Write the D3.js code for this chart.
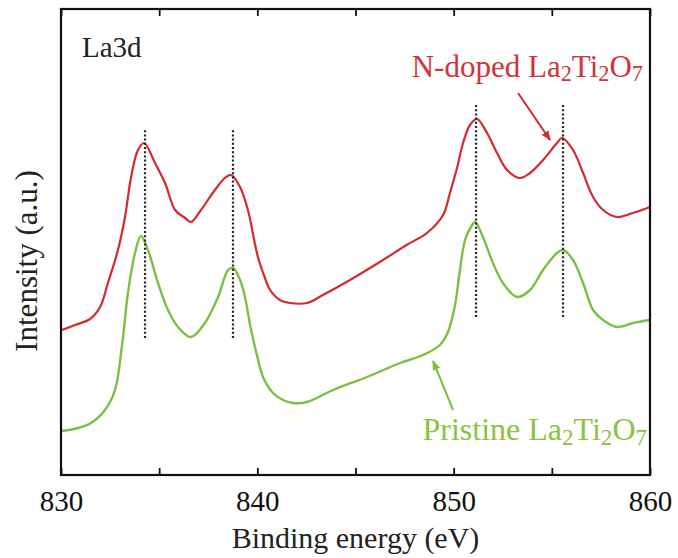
<!DOCTYPE html>
<html>
<head>
<meta charset="utf-8">
<script src="https://cdn.jsdelivr.net/npm/d3@7"></script>
<style>
  body { margin: 0; background: #fff; }
</style>
</head>
<body>
<div id="svg-chart"></div>
<script>
// binding energy (eV) and intensity (a.u.)
var energyRed = [830.05, 830.71, 831.48, 831.99, 832.39, 832.90, 833.26, 833.57, 833.92, 834.23,
  834.79, 835.30, 835.81, 836.32, 836.62, 837.13, 837.84, 838.35, 838.66, 839.12,
  839.52, 840.03, 840.39, 840.65, 841.15, 841.66, 842.53, 843.34, 844.72, 846.40,
  847.60, 848.64, 849.46, 849.81, 850.17, 850.48, 850.83, 851.19, 851.70, 852.21,
  852.72, 853.38, 853.89, 854.55, 855.26, 855.52, 856.08, 856.59, 857.10, 857.61,
  858.32, 859.13, 860.00];
var intensityRed = [145, 150, 156, 168, 192, 225, 258, 298, 325, 332,
  312, 292, 265, 257, 253, 265, 285, 297, 300, 288,
  265, 218, 197, 185, 175, 172, 172, 180, 195, 215,
  230, 242, 260, 282, 307, 332, 350, 356, 342, 322,
  305, 297, 302, 315, 332, 337, 325, 302, 278, 265,
  258, 262, 268];

var energyGreen = [830.05, 830.87, 831.53, 832.24, 832.75, 833.11, 833.41, 833.77, 834.07, 834.43,
  834.94, 835.45, 835.96, 836.62, 837.33, 838.00, 838.51, 838.76, 839.12, 839.37,
  839.68, 839.98, 840.29, 840.80, 841.31, 841.82, 842.53, 843.85, 845.59, 847.27,
  848.44, 849.30, 849.71, 850.07, 850.32, 850.58, 850.88, 851.09, 851.49, 852.00,
  852.51, 853.23, 853.89, 854.55, 855.26, 855.57, 856.08, 856.59, 857.10, 857.61,
  858.32, 859.13, 860.00];
var intensityGreen = [44, 47, 52, 65, 85, 130, 182, 222, 239, 225,
  192, 165, 148, 138, 152, 178, 205, 207, 195, 178,
  145, 120, 98, 82, 75, 72, 73, 85, 98, 112,
  120, 130, 143, 170, 205, 235, 248, 253, 238, 212,
  192, 178, 185, 205, 222, 225, 215, 192, 165, 155,
  148, 152, 155];

// dotted reference lines at the peak positions
var peakEnergy = [834.28, 838.76, 851.14, 855.57];
var peakFrom = [137, 137, 158, 158];
var peakTo = [347, 347, 370, 370];

var xTicks = [830, 840, 850, 860];
var xMinorTicks = [835, 845, 855];

var serif = "'Liberation Serif', 'Times New Roman', serif";

var svgWidth = 678, svgHeight = 558;
var chartMargin = { top: 9, right: 28, bottom: 83, left: 61 };
var chartWidth = svgWidth - chartMargin.left - chartMargin.right;
var chartHeight = svgHeight - chartMargin.top - chartMargin.bottom;

var svg = d3.select("#svg-chart")
  .append("svg")
  .attr("width", svgWidth)
  .attr("height", svgHeight);

var chartGroup = svg.append("g")
  .attr("transform", `translate(${chartMargin.left}, ${chartMargin.top})`);

var xScale = d3.scaleLinear().domain([830, 860]).range([0, chartWidth]);
var yScale = d3.scaleLinear().domain([0, 466]).range([chartHeight, 0]);

var red = "#d42a2f", green = "#7cc043";

// spectra
var line = d3.line()
  .x(d => xScale(d[0]))
  .y(d => yScale(d[1]))
  .curve(d3.curveCatmullRom.alpha(0.5));

chartGroup.append("path")
  .datum(d3.zip(energyRed, intensityRed))
  .attr("d", line)
  .attr("fill", "none")
  .attr("stroke", red)
  .attr("stroke-width", 2.2)
  .attr("stroke-linejoin", "round");

chartGroup.append("path")
  .datum(d3.zip(energyGreen, intensityGreen))
  .attr("d", line)
  .attr("fill", "none")
  .attr("stroke", green)
  .attr("stroke-width", 2.4)
  .attr("stroke-linejoin", "round");

// dotted peak lines
chartGroup.selectAll(".peak")
  .data(peakEnergy)
  .enter()
  .append("line")
  .attr("class", "peak")
  .attr("x1", d => xScale(d))
  .attr("x2", d => xScale(d))
  .attr("y1", (d, i) => yScale(peakFrom[i]))
  .attr("y2", (d, i) => yScale(peakTo[i]))
  .attr("stroke", "#222")
  .attr("stroke-width", 2.2)
  .attr("stroke-dasharray", "2,2.2");

// axes: ticks inward on bottom and top
var xAxis = d3.axisBottom(xScale).tickValues(xTicks.concat(xMinorTicks))
  .tickSizeInner(-7).tickSizeOuter(0).tickFormat(d => xTicks.indexOf(d) >= 0 ? d : "");
var xAxisTop = d3.axisTop(xScale).tickValues(xTicks.concat(xMinorTicks))
  .tickSizeInner(-7).tickSizeOuter(0).tickFormat("");

var bottomAxis = chartGroup.append("g")
  .attr("transform", `translate(0, ${chartHeight})`)
  .call(xAxis);
bottomAxis.selectAll("text")
  .attr("y", 15)
  .attr("dy", "0.71em")
  .style("font-size", "29px")
  .style("font-family", serif)
  .attr("fill", "#111");

chartGroup.append("g").call(xAxisTop);

chartGroup.selectAll(".tick line").attr("stroke", "#111").attr("stroke-width", 1.8);
chartGroup.selectAll(".domain").remove();

// frame
chartGroup.append("rect")
  .attr("width", chartWidth)
  .attr("height", chartHeight)
  .attr("fill", "none")
  .attr("stroke", "#111")
  .attr("stroke-width", 2.2);

// axis titles
chartGroup.append("text")
  .attr("x", chartWidth / 2)
  .attr("y", chartHeight + 73)
  .style("text-anchor", "middle")
  .style("font-size", "30px")
  .style("font-family", serif)
  .attr("fill", "#222")
  .text("Binding energy (eV)");

chartGroup.append("text")
  .attr("transform", "rotate(-90)")
  .attr("x", -(261 - chartMargin.top))
  .attr("y", 37 - chartMargin.left)
  .style("text-anchor", "middle")
  .style("font-size", "31px")
  .style("font-family", serif)
  .attr("fill", "#222")
  .text("Intensity (a.u.)");

chartGroup.append("text")
  .attr("x", 21)
  .attr("y", 48)
  .style("font-size", "29px")
  .style("font-family", serif)
  .attr("fill", "#222")
  .text("La3d");

// labels with subscripts
function formula(g, parts) {
  parts.forEach(function(p) {
    g.append("tspan")
      .attr("font-size", p.sub ? "0.72em" : null)
      .attr("dy", p.sub ? "0.2em" : (p.after ? "-0.144em" : null))
      .text(p.t);
  });
}
var formulaParts = [
  { t: "La" }, { t: "2", sub: true }, { t: "Ti", after: true }, { t: "2", sub: true },
  { t: "O", after: true }, { t: "7", sub: true }
];

var redLabel = chartGroup.append("text")
  .attr("x", xScale(860) - 7)
  .attr("y", yScale(398))
  .style("text-anchor", "end")
  .style("font-size", "31px")
  .style("font-family", serif)
  .attr("fill", "#d2343a");
formula(redLabel, [{ t: "N-doped " }].concat(formulaParts));

var greenLabel = chartGroup.append("text")
  .attr("x", xScale(860) - 3)
  .attr("y", yScale(35))
  .style("text-anchor", "end")
  .style("font-size", "32px")
  .style("font-family", serif)
  .attr("fill", "#88c440");
formula(greenLabel, [{ t: "Pristine " }].concat(formulaParts));

// arrows
var defs = svg.append("defs");
[["arrowRed", red], ["arrowGreen", green]].forEach(function(a) {
  defs.append("marker")
    .attr("id", a[0])
    .attr("viewBox", "0 0 10 10")
    .attr("refX", 9).attr("refY", 5)
    .attr("markerWidth", 5).attr("markerHeight", 5)
    .attr("orient", "auto")
    .append("path")
    .attr("d", "M0,1 L10,5 L0,9 Z")
    .attr("fill", a[1]);
});

chartGroup.append("line")
  .attr("x1", xScale(853.28)).attr("y1", yScale(382))
  .attr("x2", xScale(854.91)).attr("y2", yScale(335))
  .attr("stroke", red).attr("stroke-width", 2)
  .attr("marker-end", "url(#arrowRed)");

chartGroup.append("line")
  .attr("x1", xScale(849.97)).attr("y1", yScale(65))
  .attr("x2", xScale(848.95)).attr("y2", yScale(114))
  .attr("stroke", green).attr("stroke-width", 2)
  .attr("marker-end", "url(#arrowGreen)");
</script>
</body>
</html>
